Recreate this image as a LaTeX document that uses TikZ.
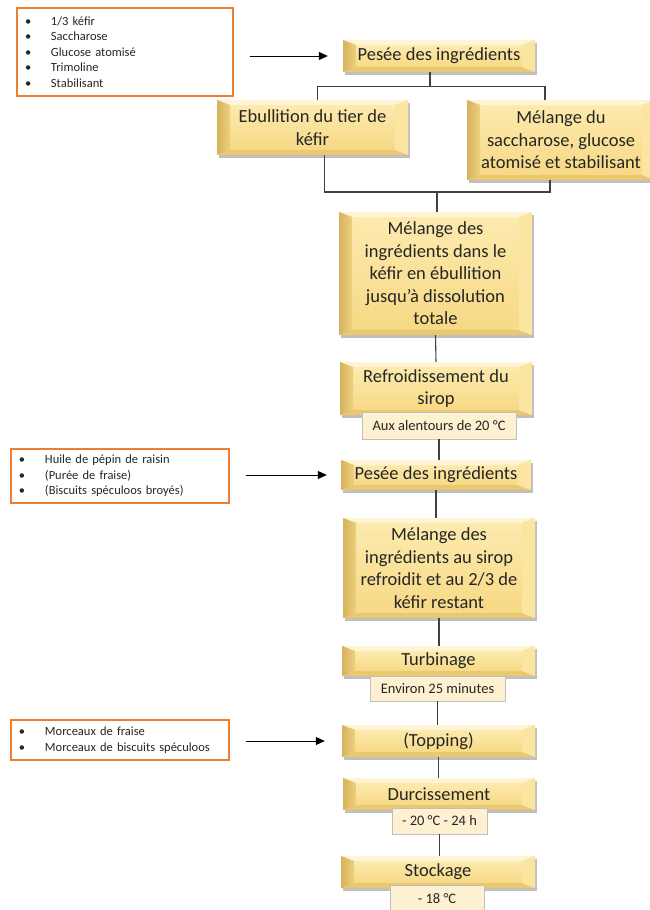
\documentclass[tikz,border=0pt]{standalone}
\usepackage{fontspec}
\setmainfont{Carlito}
\usetikzlibrary{arrows.meta,shadows,calc}
\definecolor{orangeb}{HTML}{ED7D31}
\definecolor{faceT}{HTML}{FCEAAE}
\definecolor{faceB}{HTML}{F7D985}
\definecolor{bevTop}{HTML}{FFF5D6}
\definecolor{bevBot}{HTML}{E9C871}
\definecolor{bevL}{HTML}{D6B35C}
\definecolor{bevLi}{HTML}{EDCF7E}
\definecolor{bevR}{HTML}{FBE5A0}
\definecolor{subfill}{HTML}{FEF1D2}
\definecolor{subline}{HTML}{BFBFBF}
\definecolor{txt}{HTML}{262626}
\definecolor{conn}{HTML}{404040}
\tikzset{
  bevelpp/.style={path picture={
    \coordinate (bsw) at (path picture bounding box.south west);
    \coordinate (bne) at (path picture bounding box.north east);
    \coordinate (bnw) at (bsw |- bne);
    \coordinate (bse) at (bne |- bsw);
    \coordinate (isw) at ($(bsw)+(13pt,5pt)$);
    \coordinate (ine) at ($(bne)+(-13pt,-5pt)$);
    \coordinate (inw) at (isw |- ine);
    \coordinate (ise) at (ine |- isw);
    \shade[top color=faceT,bottom color=faceB] (isw) rectangle (ine);
    \fill[bevTop] (bnw) -- (bne) -- (ine) -- (inw) -- cycle;
    \fill[bevBot] (bsw) -- (bse) -- (ise) -- (isw) -- cycle;
    \shade[left color=bevL,right color=bevLi] (bsw) -- (isw) -- (inw) -- (bnw) -- cycle;
    \fill[bevR] (bse) -- (ise) -- (ine) -- (bne) -- cycle;
  }},
  mainbox/.style={rectangle, inner sep=2pt, align=center, text=txt,
    font=\fontsize{18.5}{22.5}\selectfont, fill=faceB,
    drop shadow={shadow xshift=2pt,shadow yshift=-2.5pt,fill=black,opacity=0.25},
    bevelpp},
  subbox/.style={rectangle, inner sep=1pt, align=center, text=txt,
    font=\fontsize{14.5}{16}\selectfont, fill=subfill, draw=subline, line width=0.8pt},
  notebox/.style={rectangle, draw=orangeb, line width=1.3pt, fill=white,
    inner xsep=8pt, inner ysep=2pt, align=left, text=txt,
    font=\fontsize{12.5}{15.6}\selectfont},
  conline/.style={draw=conn, line width=1.1pt},
  arr/.style={draw=black, line width=1pt, -{Triangle[length=9pt,width=8pt]}}
}
\newcommand{\bul}[1]{\makebox[26pt][l]{•}#1}
\begin{document}
\begin{tikzpicture}[x=1pt,y=-1pt]
\useasboundingbox (0,0) rectangle (649,910);

% notes
\node[notebox, minimum width=216pt, minimum height=88pt, text width=200pt] (n1) at (125,52)
  {\bul{1/3 kéfir}\\\bul{Saccharose}\\\bul{Glucose atomisé}\\\bul{Trimoline}\\\bul{Stabilisant}};
\node[notebox, minimum width=218pt, minimum height=54pt, text width=202pt] (n2) at (120,476)
  {\bul{Huile de pépin de raisin}\\\bul{(Purée de fraise)}\\\bul{(Biscuits spéculoos broyés)}};
\node[notebox, minimum width=218pt, minimum height=40pt, text width=202pt] (n3) at (120,740)
  {\bul{Morceaux de fraise}\\\bul{Morceaux de biscuits spéculoos}};

% main steps
\node[mainbox, minimum width=192pt, minimum height=32pt] (p1) at (439,56) {Pesée des ingrédients};
\node[mainbox, minimum width=191pt, minimum height=55pt] (eb) at (312.5,127.5) {Ebullition du tier de\\kéfir};
\node[mainbox, minimum width=188pt, minimum height=80pt] (md) at (561,140) {Mélange du\\saccharose, glucose\\atomisé et stabilisant};
\node[mainbox, minimum width=193pt, minimum height=123pt] (mdes) at (435.5,273.5) {Mélange des\\ingrédients dans le\\kéfir en ébullition\\jusqu'à dissolution\\totale};
\node[mainbox, minimum width=192pt, minimum height=53pt] (refr) at (436,388.5) {Refroidissement du\\sirop};
\node[subbox, minimum width=154pt, minimum height=27pt] (s1) at (439,425.5) {Aux alentours de 20 °C};
\node[mainbox, minimum width=190pt, minimum height=30pt] (p2) at (436,475) {Pesée des ingrédients};
\node[mainbox, minimum width=192pt, minimum height=100pt] (m2) at (439,568) {Mélange des\\ingrédients au sirop\\refroidit et au 2/3 de\\kéfir restant};
\node[mainbox, minimum width=193pt, minimum height=30pt] (tu) at (438.5,661) {Turbinage};
\node[subbox, minimum width=135pt, minimum height=25pt] (s2) at (437.5,688.5) {Environ 25 minutes};
\node[mainbox, minimum width=193pt, minimum height=32pt] (to) at (438.5,741) {(Topping)};
\node[mainbox, minimum width=192pt, minimum height=32pt] (du) at (439,794) {Durcissement};
\node[subbox, minimum width=95pt, minimum height=26pt] (s3) at (439.5,821) {- 20 °C - 24 h};
\node[mainbox, minimum width=194pt, minimum height=32pt] (st) at (438,872) {Stockage};
\node[subbox, minimum width=94pt, minimum height=27pt] (s4) at (437,898.5) {- 18 °C};

% connectors
\draw[conline] ([xshift=-9pt]p1.south) -- ++(0,14) -| ([xshift=5pt]eb.north);
\draw[conline] ([xshift=-9pt]p1.south) -- ++(0,14) -| ([xshift=-16pt]md.north);
\coordinate (j) at (437,192);
\draw[conline] ([xshift=12pt]eb.south) |- (j) -| ([xshift=-11pt]md.south);
\draw[conline] (j) -- (j |- mdes.north);
\draw[conline] (mdes.south) -- (refr.north);
\draw[conline] (s1.south) -- (s1.south |- p2.north);
\draw[conline] (p2.south) -- (p2.south |- m2.north);
\draw[conline] (m2.south) -- (m2.south |- tu.north);
\draw[conline] (s2.south) -- (s2.south |- to.north);
\draw[conline] (to.south) -- (to.south |- du.north);
\draw[conline] (s3.south) -- (s3.south |- st.north);

% arrows
\draw[arr, shorten <=16pt, shorten >=15pt] (n1.east |- p1.west) -- (p1.west);
\draw[arr, shorten <=16pt, shorten >=14pt] (n2.east |- p2.west) -- (p2.west);
\draw[arr, shorten <=16pt, shorten >=17pt] (n3.east |- to.west) -- (to.west);
\end{tikzpicture}
\end{document}
